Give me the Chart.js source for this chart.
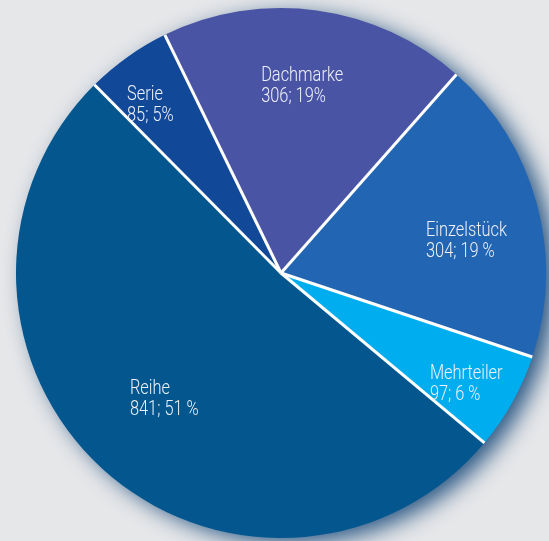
<!DOCTYPE html>
<html>
<head>
<meta charset="utf-8">
<script src="https://cdn.jsdelivr.net/npm/chart.js@4.4.0/dist/chart.umd.min.js"></script>
<style>
  html, body { margin: 0; padding: 0; background: #e6e7e9; }
  #chart { display: block; }
</style>
</head>
<body>
<canvas id="chart" width="549" height="541"></canvas>
<script>
// data
const kategorien = ['Dachmarke', 'Einzelstück', 'Mehrteiler', 'Reihe', 'Serie'];
const anzahl = [306, 304, 97, 841, 85];
const prozent = ['19%', '19 %', '6 %', '51 %', '5%'];
const farben = ['#4a54a4', '#2265b3', '#00aeef', '#03578e', '#124898'];

// where each label sits, as a fraction of the radius from the centre (left edge, first baseline)
const labelPos = [[-0.075, -0.725], [0.547, -0.14], [0.562, 0.40], [-0.57, 0.457], [-0.581, -0.653]];

const schatten = {
  id: 'schatten',
  beforeDatasetsDraw(chart) {
    const arc = chart.getDatasetMeta(0).data[0];
    if (!arc) return;
    const ctx = chart.ctx;
    ctx.save();
    ctx.shadowColor = 'rgba(20, 70, 120, 0.9)';
    ctx.shadowBlur = 22;
    ctx.shadowOffsetX = 10;
    ctx.shadowOffsetY = 6;
    ctx.fillStyle = '#03578e';
    ctx.beginPath();
    ctx.arc(arc.x, arc.y, arc.outerRadius - 1, 0, Math.PI * 2);
    ctx.fill();
    ctx.restore();
  }
};

const trenner = {
  id: 'trenner',
  afterDatasetsDraw(chart) {
    const ctx = chart.ctx;
    const arcs = chart.getDatasetMeta(0).data;
    ctx.save();
    ctx.strokeStyle = '#ffffff';
    ctx.lineWidth = 3;
    arcs.forEach(a => {
      ctx.beginPath();
      ctx.moveTo(a.x, a.y);
      ctx.lineTo(a.x + Math.cos(a.startAngle) * a.outerRadius, a.y + Math.sin(a.startAngle) * a.outerRadius);
      ctx.stroke();
    });
    ctx.restore();

    // labels, condensed by squeezing the x axis
    arcs.forEach((a, i) => {
      const x = a.x + labelPos[i][0] * a.outerRadius;
      const y = a.y + labelPos[i][1] * a.outerRadius;
      ctx.save();
      ctx.translate(x, y);
      ctx.scale(0.78, 1);
      ctx.fillStyle = '#eef1f8';
      ctx.font = '300 21px Roboto';
      ctx.textAlign = 'left';
      ctx.textBaseline = 'alphabetic';
      ctx.fillText(kategorien[i], 0, 0);
      ctx.fillText(anzahl[i] + '; ' + prozent[i], 0, 21);
      ctx.restore();
    });
  }
};

new Chart(document.getElementById('chart'), {
  type: 'pie',
  data: {
    labels: kategorien,
    datasets: [{
      data: anzahl,
      backgroundColor: farben,
      borderWidth: 0
    }]
  },
  options: {
    responsive: false,
    animation: false,
    rotation: -26,
    radius: 265,
    layout: { padding: { left: 16, right: 3, top: 8, bottom: 3 } },
    plugins: {
      legend: { display: false },
      tooltip: { enabled: false }
    }
  },
  plugins: [schatten, trenner]
});
</script>
</body>
</html>
